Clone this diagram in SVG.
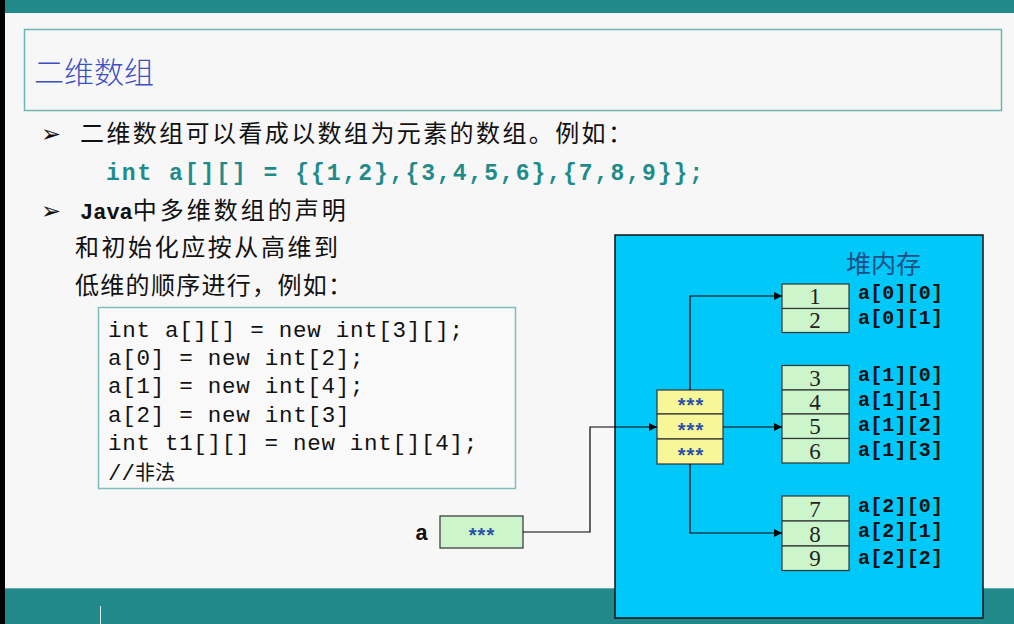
<svg xmlns="http://www.w3.org/2000/svg" width="1014" height="624" viewBox="0 0 1014 624">
<defs>
<marker id="arr" viewBox="0 0 10 10" refX="10" refY="5" markerWidth="8" markerHeight="8" markerUnits="userSpaceOnUse" orient="auto">
<path d="M0,0 L10,5 L0,10 z" fill="#000"/>
</marker>
<style>
.cn{font-family:"Noto Sans CJK SC","Noto Sans",sans-serif;font-size:24px;fill:#111}
.bul{font-family:"DejaVu Sans",sans-serif;font-size:24px;fill:#111}
.code{font-family:"Liberation Mono",monospace;font-size:22.5px;fill:#111}
.lbl{font-family:"Liberation Mono",monospace;font-size:20px;font-weight:bold;fill:#111}
.num{font-family:"Liberation Serif",serif;font-size:23px;fill:#222;text-anchor:middle}
.star{font-family:"Liberation Sans",sans-serif;font-size:20px;font-weight:bold;fill:#2a4fa8;text-anchor:middle;letter-spacing:1px}
.cell{fill:#ccf5cc;stroke:#333;stroke-width:1.2}
.ycell{fill:#f7f79a;stroke:#333;stroke-width:1.2}
.conn{fill:none;stroke:#000;stroke-width:1.2}
</style>
</defs>
<rect x="0" y="0" width="1014" height="624" fill="#f7f7f7"/>
<rect x="0" y="0" width="1014" height="13" fill="#21898a"/>
<rect x="0" y="588" width="1014" height="36" fill="#21898a"/>
<line x1="0" y1="588.5" x2="1014" y2="588.5" stroke="#5fb0ae" stroke-width="1"/>
<line x1="100.5" y1="606" x2="100.5" y2="624" stroke="#d8eeee" stroke-width="1"/>
<rect x="0" y="0" width="5" height="624" fill="#000"/>

<g id="title">
<rect x="24.5" y="29.5" width="977" height="81" fill="none" stroke="#6fb5b3" stroke-width="1.5"/>
<text x="34" y="83" font-family="Noto Sans CJK SC, sans-serif" font-size="30" font-weight="300" fill="#3d4fc4">二维数组</text>
</g>

<g id="text">
<text class="bul" x="41" y="142">➢</text>
<text class="cn" x="80" y="142" textLength="552" lengthAdjust="spacing">二维数组可以看成以数组为元素的数组。例如：</text>
<text x="106" y="180" font-family="Liberation Mono, monospace" font-size="23" font-weight="bold" fill="#1f8b8b" textLength="597" lengthAdjust="spacing">int a[][] = {{1,2},{3,4,5,6},{7,8,9}};</text>
<text class="bul" x="41" y="219">➢</text>
<text class="cn" x="80" y="219"><tspan font-family="Liberation Mono, monospace" font-weight="bold" font-size="22">Java</tspan><tspan letter-spacing="3">中多维数组的声明</tspan></text>
<text class="cn" x="75" y="256" textLength="263" lengthAdjust="spacing">和初始化应按从高维到</text>
<text class="cn" x="75" y="294" textLength="277" lengthAdjust="spacing">低维的顺序进行，例如：</text>
</g>

<g id="codebox">
<rect x="98.5" y="307.5" width="417" height="181" fill="#f9f9f9" stroke="#7fbcbc" stroke-width="1.5"/>
<text class="code" x="108" y="337" textLength="355" lengthAdjust="spacing">int a[][] = new int[3][];</text>
<text class="code" x="108" y="365" textLength="255.6" lengthAdjust="spacing">a[0] = new int[2];</text>
<text class="code" x="108" y="393" textLength="255.6" lengthAdjust="spacing">a[1] = new int[4];</text>
<text class="code" x="108" y="422" textLength="241.4" lengthAdjust="spacing">a[2] = new int[3]</text>
<text class="code" x="108" y="450" textLength="369.2" lengthAdjust="spacing">int t1[][] = new int[][4];</text>
<text class="code" x="108" y="480">//<tspan font-family="Noto Sans CJK SC, sans-serif" font-size="20">非法</tspan></text>
</g>

<g id="heap">
<rect x="615" y="235" width="368" height="383" fill="#00c8f8" stroke="#111" stroke-width="1.5"/>
<text x="846" y="273" font-family="Noto Sans CJK SC, sans-serif" font-size="25" fill="#1d4f86">堆内存</text>
</g>

<g id="a-var">
<text x="415" y="540" font-family="Liberation Mono, monospace" font-size="22" font-weight="bold" fill="#111">a</text>
<rect class="cell" x="440" y="516" width="83" height="32"/>
<text class="star" x="482" y="542">***</text>
</g>

<g id="ptr-array">
<rect class="ycell" x="657" y="390" width="66" height="24"/>
<rect class="ycell" x="657" y="414" width="66" height="25"/>
<rect class="ycell" x="657" y="439" width="66" height="25"/>
<text class="star" x="691" y="412">***</text>
<text class="star" x="691" y="437">***</text>
<text class="star" x="691" y="462">***</text>
</g>

<g id="row0">
<rect class="cell" x="782" y="284" width="67" height="24.5"/>
<rect class="cell" x="782" y="308.5" width="67" height="24"/>
<text class="num" x="815" y="304">1</text>
<text class="num" x="815" y="328">2</text>
<text class="lbl" x="858" y="299" textLength="85" lengthAdjust="spacing">a[0][0]</text>
<text class="lbl" x="858" y="324" textLength="85" lengthAdjust="spacing">a[0][1]</text>
</g>

<g id="row1">
<rect class="cell" x="782" y="365.5" width="67" height="24.5"/>
<rect class="cell" x="782" y="390" width="67" height="24"/>
<rect class="cell" x="782" y="414" width="67" height="24.5"/>
<rect class="cell" x="782" y="438.5" width="67" height="24.5"/>
<text class="num" x="815" y="386">3</text>
<text class="num" x="815" y="410">4</text>
<text class="num" x="815" y="434">5</text>
<text class="num" x="815" y="459">6</text>
<text class="lbl" x="858" y="381" textLength="85" lengthAdjust="spacing">a[1][0]</text>
<text class="lbl" x="858" y="406" textLength="85" lengthAdjust="spacing">a[1][1]</text>
<text class="lbl" x="858" y="431" textLength="85" lengthAdjust="spacing">a[1][2]</text>
<text class="lbl" x="858" y="456" textLength="85" lengthAdjust="spacing">a[1][3]</text>
</g>

<g id="row2">
<rect class="cell" x="782" y="496" width="67" height="25"/>
<rect class="cell" x="782" y="521" width="67" height="25"/>
<rect class="cell" x="782" y="546" width="67" height="24.5"/>
<text class="num" x="815" y="517">7</text>
<text class="num" x="815" y="542">8</text>
<text class="num" x="815" y="566">9</text>
<text class="lbl" x="858" y="512" textLength="85" lengthAdjust="spacing">a[2][0]</text>
<text class="lbl" x="858" y="537" textLength="85" lengthAdjust="spacing">a[2][1]</text>
<text class="lbl" x="858" y="564" textLength="85" lengthAdjust="spacing">a[2][2]</text>
</g>

<g id="connectors">
<path class="conn" d="M523,532 H590 V427 H657" marker-end="url(#arr)"/>
<path class="conn" d="M690,390 V296 H782" marker-end="url(#arr)"/>
<path class="conn" d="M723,427 H782" marker-end="url(#arr)"/>
<path class="conn" d="M690,464 V533 H782" marker-end="url(#arr)"/>
</g>
</svg>
